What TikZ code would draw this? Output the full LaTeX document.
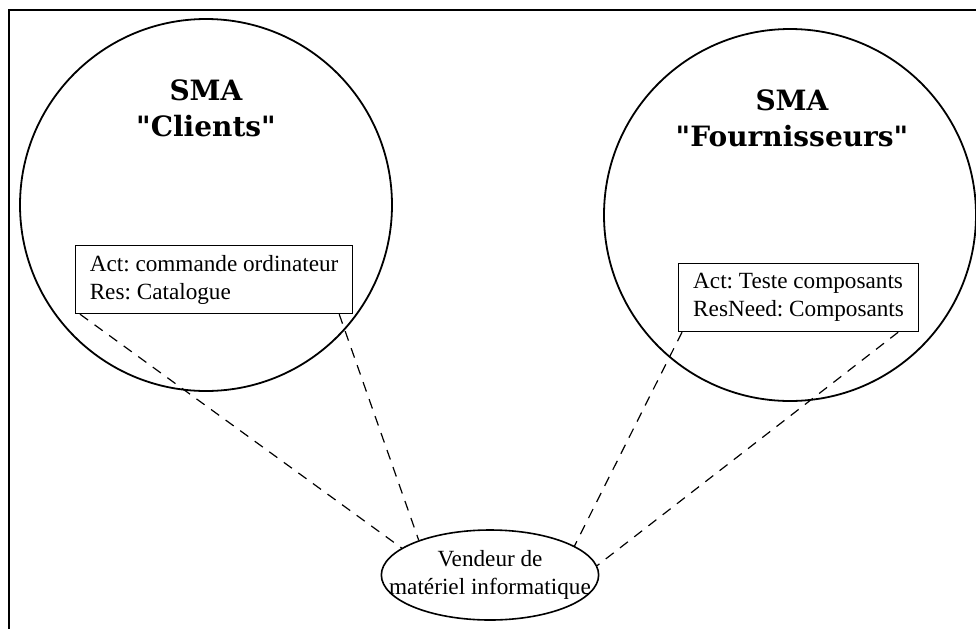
\documentclass[tikz,border=0pt]{standalone}
\usepackage{fontspec}
\setmainfont{Liberation Serif}
\newfontfamily\titlefont{DejaVu Serif}
\usetikzlibrary{shapes.geometric,calc}
\frenchspacing
\begin{document}
\begin{tikzpicture}[
x=0.5pt,y=-0.5pt,
every node/.style={font=\fontsize{11.6}{14}\selectfont},
sma/.style={draw,circle,line width=0.9pt,minimum size=372pt/2,inner sep=0pt},
tag/.style={align=center,font=\titlefont\bfseries\fontsize{14}{18}\selectfont},
task/.style={draw,line width=0.6pt,anchor=north west,align=left,minimum height=34pt},
seller/.style={draw,ellipse,line width=0.8pt,minimum width=108pt,minimum height=45pt,inner xsep=-12pt,inner ysep=0pt,align=center},
link/.style={dash pattern=on 5pt off 4pt,line width=0.6pt},
]
\useasboundingbox (0,0) rectangle (976,628);
\draw[line width=0.7pt] (9,660) -- (9,10) -- (1000,10);

%SMA circles
\node[sma] (clients) at (206,205) {};
\node[tag] (tclients) at (206,108) {SMA\\"Clients"};
\node[sma] (fourn) at (790,215) {};
\node[tag] (tfourn) at (792,118) {SMA\\"Fournisseurs"};

\node[task,minimum width=138.5pt] (act1) at (75,245) {Act: commande ordinateur\\Res: Catalogue};
\node[task,minimum width=120pt] (act2) at (678,263) {Act: Teste composants\\ResNeed: Composants};

%Agent
\node[seller] (vend) at (490,575) {Vendeur de\\matériel informatique};

\draw[link] ($(act1.south west)+(5,0)$) -- (vend.163);
\draw[link] ($(act1.south east)+(-14,0)$) -- (vend.154);
\draw[link] ($(act2.south west)+(4,0)$) -- (vend.19);
\draw[link] ($(act2.south east)+(-21,0)$) -- (vend.5);

\end{tikzpicture}
\end{document}
